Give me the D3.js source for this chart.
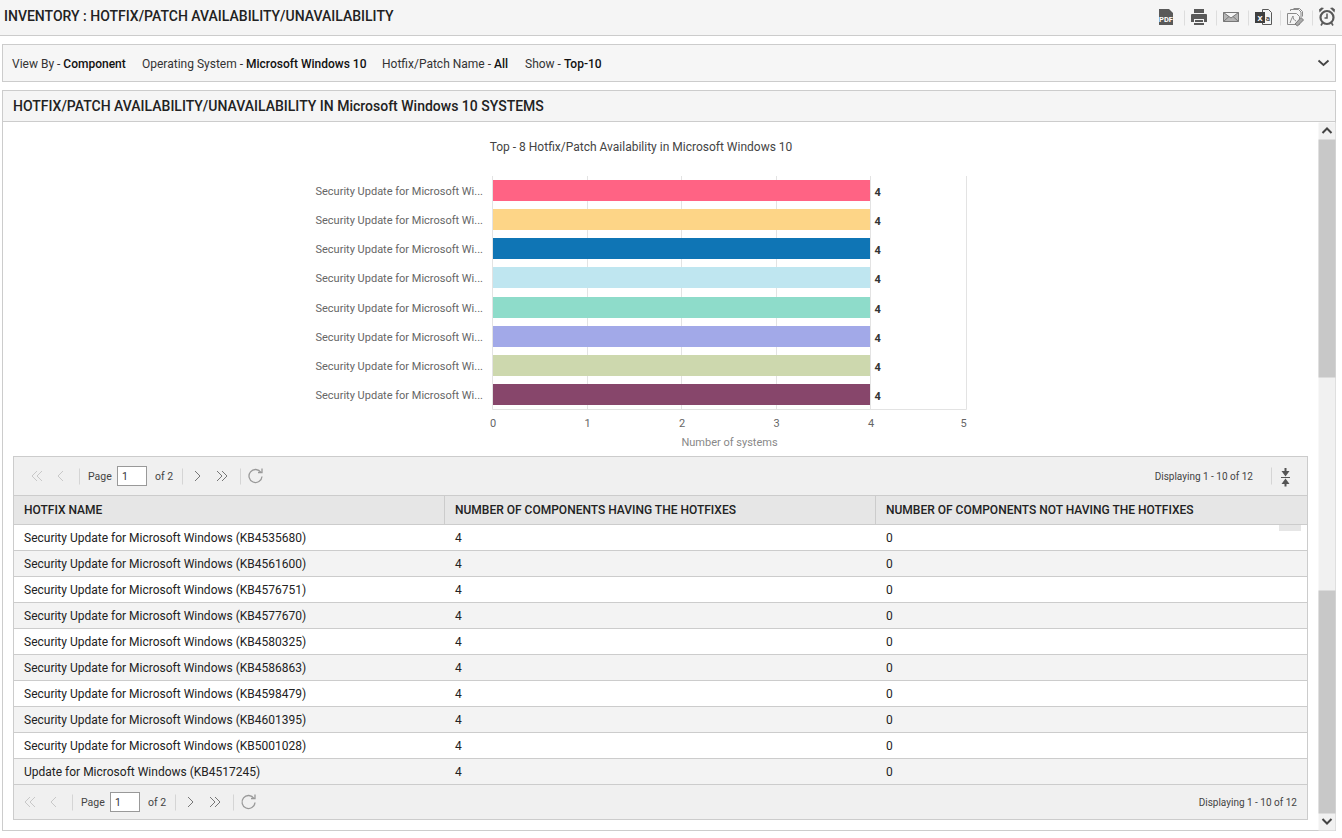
<!DOCTYPE html>
<html>
	<head>
		<meta charset="utf-8" />
		<style>
			html, body {
				margin: 0;
				padding: 0;
				background: #fff;
				overflow: hidden;
			}

			svg {
				display: block;
				font-family: Roboto, sans-serif;
			}

			#barAxis .domain, #valueAxis .domain, #valueAxis .tick line, #barAxis .tick line {
				display: none;
			}
		</style>
	</head>
	<body>
		<svg id="page" width="1342" height="838"></svg>
		<script src="https://cdnjs.cloudflare.com/ajax/libs/d3/7.8.5/d3.min.js"></script>

		<script>
			let hotfixNames = [
				'Security Update for Microsoft Windows (KB4535680)',
				'Security Update for Microsoft Windows (KB4561600)',
				'Security Update for Microsoft Windows (KB4576751)',
				'Security Update for Microsoft Windows (KB4577670)',
				'Security Update for Microsoft Windows (KB4580325)',
				'Security Update for Microsoft Windows (KB4586863)',
				'Security Update for Microsoft Windows (KB4598479)',
				'Security Update for Microsoft Windows (KB4601395)',
				'Security Update for Microsoft Windows (KB5001028)',
				'Update for Microsoft Windows (KB4517245)',
			];
			let havingHotfix = [4, 4, 4, 4, 4, 4, 4, 4, 4, 4];
			let notHavingHotfix = [0, 0, 0, 0, 0, 0, 0, 0, 0, 0];
			let chartCount = 8;
			let barColors = [
				'#ff6384',
				'#fdd587',
				'#0f75b5',
				'#bfe6f0',
				'#8edcca',
				'#a2a9e8',
				'#cdd8ae',
				'#87466b',
			];
			let valueTicks = [0, 1, 2, 3, 4, 5];
			let columnTitles = [
				'HOTFIX NAME',
				'NUMBER OF COMPONENTS HAVING THE HOTFIXES',
				'NUMBER OF COMPONENTS NOT HAVING THE HOTFIXES',
			];
			let filterLabels = ['View By - ', 'Operating System - ', 'Hotfix/Patch Name - ', 'Show - '];
			let filterValues = ['Component', 'Microsoft Windows 10', 'All', 'Top-10'];

			let svg = d3.select('#page');

			function box(x, y, w, h, fill, stroke) {
				return svg.append('rect')
					.attr('x', x + 0.5).attr('y', y + 0.5)
					.attr('width', w).attr('height', h)
					.attr('fill', fill).attr('stroke', stroke || 'none');
			}

			function rule(x1, y1, x2, y2, color) {
				return svg.append('line')
					.attr('x1', x1 + 0.5).attr('y1', y1 + 0.5)
					.attr('x2', x2 + 0.5).attr('y2', y2 + 0.5)
					.attr('stroke', color);
			}

			function label(parent, x, y, str, size, color, weight, anchor) {
				return parent.append('text')
					.attr('x', x).attr('y', y)
					.attr('font-size', size)
					.attr('fill', color)
					.attr('font-weight', weight || 400)
					.attr('text-anchor', anchor || 'start')
					.text(str);
			}

			function path(d, stroke, width, fill) {
				return svg.append('path')
					.attr('d', d)
					.attr('fill', fill || 'none')
					.attr('stroke', stroke || 'none')
					.attr('stroke-width', width || 1);
			}

			// page header
			box(-1, -1, 1344, 36, '#f5f5f5', '#cccccc');
			label(svg, 4, 21, 'INVENTORY : HOTFIX/PATCH AVAILABILITY/UNAVAILABILITY', 14, '#222', 500);

			// header icons
			let iconGrey = '#595959';
			path('M1159 9h10l4 4v12h-14z', null, 1, iconGrey);
			label(svg, 1166, 22, 'PDF', 7.5, '#fff', 700, 'middle');
			path('M1194 9h10v4h-10zM1192 14h14a1 1 0 0 1 1 1v7h-3v-3h-10v3h-3v-7a1 1 0 0 1 1-1zM1195 20h8v2h-8zM1194 23h10v2h-10z', null, 1, iconGrey);
			path('M1223.5 12.5h15v9h-15zM1223.5 12.5l7.5 5.5 7.5-5.5M1223.5 21.5l5.5-5M1238.5 21.5l-5.5-5', '#777', 1, '#b5b5b5');
			path('M1262.5 9.5h6l3 3v12h-9z', '#595959', 1, '#f5f5f5');
			path('M1255 12h10v11h-10z', null, 1, '#3f3f3f');
			label(svg, 1260, 21, 'X', 8, '#fff', 700, 'middle');
			label(svg, 1268, 21, 'a', 8, '#444', 500, 'middle');
			path('M1287.5 13.5h9l3 3v8h-12zM1290.5 11v-1.5h8l2.5 2.5v5M1293.5 8.5h6l3 3v5M1290 23c1-3 2-5 3-7 0 3 1 4 3 5', '#8a8a8a', 1, 'none');
			path('M1295 24l6-6.5 2.5 2.5-6 6z', '#777', 1, '#aaa');
			svg.append('circle').attr('cx', 1327).attr('cy', 17.5).attr('r', 6.5)
				.attr('fill', 'none').attr('stroke', iconGrey).attr('stroke-width', 2.2);
			path('M1327 13.5v4.5h-2.5', iconGrey, 1.5);
			path('M1319.5 12.5l4.5-4.5-2.5-.5-2.5 2zM1334.5 12.5l-4.5-4.5 2.5-.5 2.5 2z', null, 1, iconGrey);
			path('M1322.5 23l-1.5 2.5M1331.5 23l1.5 2.5', iconGrey, 1.6);
			[1184, 1216, 1248, 1280, 1312].forEach(x => rule(x, 10, x, 25, '#dddddd'));

			// filter bar
			box(2, 44, 1333, 37, '#f6f6f6', '#cccccc');
			let filterX = [12, 142, 382, 525];
			filterLabels.forEach((d, i) => {
				let t = label(svg, filterX[i], 68, d, 12, '#333');
				t.append('tspan').attr('font-weight', 500).attr('fill', '#111').text(filterValues[i]);
			});
			path('M1318.5 60.5l5 4.5 5-4.5', '#444', 1.8);

			// report panel
			box(2, 90, 1333, 740, '#fff', '#cccccc');
			box(2, 90, 1333, 31, '#f5f5f5', '#cccccc');
			label(svg, 13, 111, 'HOTFIX/PATCH AVAILABILITY/UNAVAILABILITY IN Microsoft Windows 10 SYSTEMS', 14, '#222', 500);

			// scrollbar
			box(1318, 122, 17, 708, '#f1f1f1');
			box(1318, 139, 17, 238, '#c8c8c8');
			box(1318, 590, 17, 223, '#c8c8c8');
			path('M1322.5 133l4.5-4.5 4.5 4.5', '#444', 2);
			path('M1322.5 819l4.5 4.5 4.5-4.5', '#444', 2);

			// chart
			let chartNames = hotfixNames.slice(0, chartCount);
			let plotTop = 176;
			let plotBottom = 409.5;
			let plotRight = 966.5;
			let x = d3.scaleLinear().domain([0, 5]).range([492.5, 965]);
			let y = d3.scaleBand().domain(chartNames).range([plotTop, 408.9]).paddingInner(0.28).paddingOuter(0.14);
			let barTop = d => Math.round(y(d));
			let barHeight = Math.round(y.bandwidth());
			let gridX = d => (d === 5 ? plotRight : Math.floor(x(d)) + 0.5);

			label(svg, 641, 151, 'Top - 8 Hotfix/Patch Availability in Microsoft Windows 10', 12, '#444', 400, 'middle');

			svg.append('g')
				.selectAll('line')
				.data(valueTicks)
				.enter()
				.append('line')
				.attr('x1', gridX).attr('x2', gridX)
				.attr('y1', plotTop).attr('y2', plotBottom)
				.attr('stroke', '#e3e3e3');
			svg.append('line')
				.attr('x1', x(0)).attr('x2', plotRight)
				.attr('y1', plotBottom).attr('y2', plotBottom)
				.attr('stroke', '#e3e3e3');

			svg.append('g')
				.selectAll('rect')
				.data(chartNames)
				.enter()
				.append('rect')
				.attr('x', x(0) + 0.5)
				.attr('y', barTop)
				.attr('width', (d, i) => x(havingHotfix[i]) - x(0) - 1)
				.attr('height', barHeight)
				.attr('fill', (d, i) => barColors[i]);

			svg.append('g')
				.selectAll('text')
				.data(chartNames)
				.enter()
				.append('text')
				.attr('x', (d, i) => x(havingHotfix[i]) + 4)
				.attr('y', d => barTop(d) + 16)
				.attr('font-size', 11)
				.attr('font-weight', 700)
				.attr('fill', '#333')
				.text((d, i) => havingHotfix[i]);

			let barAxis = svg.append('g')
				.attr('id', 'barAxis')
				.attr('transform', 'translate(483,1)')
				.call(d3.axisLeft(y).tickSize(0).tickPadding(0).tickFormat(d => d.slice(0, 32) + '...'));
			barAxis.selectAll('text').attr('font-size', 11).attr('font-family', 'Roboto').attr('fill', '#666');

			let valueAxis = svg.append('g')
				.attr('id', 'valueAxis')
				.attr('transform', 'translate(0,419)')
				.call(d3.axisBottom(x).tickValues(valueTicks).tickSize(0).tickPadding(0).tickFormat(d3.format('d')));
			valueAxis.selectAll('text').attr('font-size', 11).attr('font-family', 'Roboto').attr('fill', '#666');
			valueAxis.selectAll('.tick').filter(d => d === 5).select('text').attr('dx', -2);
			label(svg, 729.5, 446, 'Number of systems', 11, '#888', 400, 'middle');

			// pagination toolbars
			function pager(top, h, o, cy) {
				box(13, top, 1294, h, '#f0f0f0', '#cccccc');
				let c = '#c8c8c8';
				path(`M${o + 6} ${cy - 5}l-5 5 5 5M${o + 11} ${cy - 5}l-5 5 5 5`, c, 1);
				path(`M${o + 32} ${cy - 5}l-5 5 5 5`, c, 1);
				rule(o + 48, cy - 8, o + 48, cy + 8, '#d5d5d5');
				label(svg, o + 57, cy + 4, 'Page', 10.5, '#444');
				box(o + 86, cy - 10, 29, 19, '#fff', '#999999');
				label(svg, o + 91, cy + 4, '1', 10.5, '#333');
				label(svg, o + 124, cy + 4, 'of 2', 10.5, '#444');
				rule(o + 151, cy - 8, o + 151, cy + 8, '#d5d5d5');
				path(`M${o + 164} ${cy - 5}l5 5-5 5`, '#777', 1);
				path(`M${o + 186} ${cy - 5}l5 5-5 5M${o + 191} ${cy - 5}l5 5-5 5`, '#777', 1);
				rule(o + 209, cy - 8, o + 209, cy + 8, '#d5d5d5');
				let c2 = o + 224.5;
				path(`M${c2 + 5.5} ${cy - 3.5}A6.5 6.5 0 1 0 ${c2 + 6.5} ${cy + 0.5}`, '#999', 1.3);
				path(`M${c2 + 6.5} ${cy - 7.5}v4h-4`, '#999', 1.3);
			}

			pager(456, 39, 31, 476);
			label(svg, 1253, 480, 'Displaying 1 - 10 of 12', 10, '#444', 400, 'end');
			rule(1271, 467, 1271, 484, '#d5d5d5');
			path('M1285.5 468v4.5M1285.5 482v4.5', '#555', 2);
			path('M1281.5 471h8l-4 5.5zM1281.5 484h8l-4-5.5z', null, 1, '#555');
			path('M1281 477.5h9', '#555', 1);

			// table
			let columnX = [13, 444, 875];
			let rowY = d3.scaleBand()
				.domain(d3.range(hotfixNames.length))
				.range([524, 784]);

			box(13, 495, 1294, 29, '#e6e6e6', '#cccccc');
			columnX.slice(1).forEach(cx => rule(cx, 495, cx, 524, '#cccccc'));
			columnTitles.forEach((d, i) => {
				label(svg, columnX[i] + 11, 514, d, 12, '#222', 500);
			});

			let rows = svg.append('g')
				.selectAll('g')
				.data(hotfixNames)
				.enter()
				.append('g')
				.attr('transform', (d, i) => `translate(0,${rowY(i)})`);
			rows.append('rect')
				.attr('x', 13.5).attr('y', 0.5)
				.attr('width', 1294).attr('height', rowY.bandwidth())
				.attr('fill', (d, i) => (i % 2 ? '#f3f3f3' : '#ffffff'))
				.attr('stroke', '#cccccc');
			rows.append('text')
				.attr('x', columnX[0] + 11).attr('y', 18)
				.attr('font-size', 12).attr('fill', '#222')
				.text(d => d);
			rows.append('text')
				.attr('x', columnX[1] + 11).attr('y', 18)
				.attr('font-size', 12).attr('fill', '#222')
				.text((d, i) => havingHotfix[i]);
			rows.append('text')
				.attr('x', columnX[2] + 11).attr('y', 18)
				.attr('font-size', 12).attr('fill', '#222')
				.text((d, i) => notHavingHotfix[i]);

			box(1278.5, 524.5, 22, 6, '#e6e6e6');

			pager(784, 35, 24, 802);
			label(svg, 1297, 806, 'Displaying 1 - 10 of 12', 10, '#444', 400, 'end');
		</script>
	</body>
</html>
